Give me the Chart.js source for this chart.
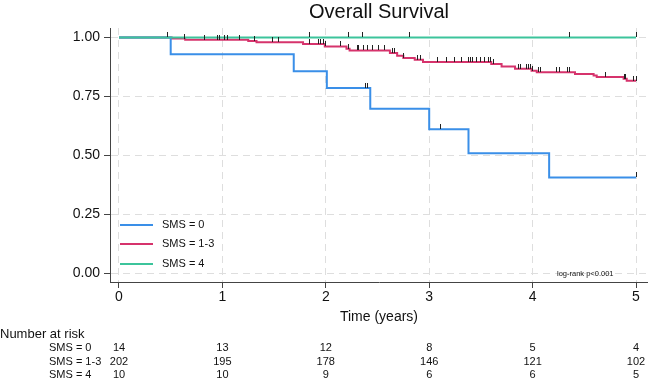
<!DOCTYPE html>
<html>
<head>
<meta charset="utf-8">
<script src="https://cdn.jsdelivr.net/npm/chart.js@4"></script>
<style>
  body { margin: 0; background: #fff; }
  canvas { display: block; }
</style>
</head>
<body>
<canvas id="km" width="648" height="381"></canvas>
<script>
// Kaplan-Meier curves: Overall Survival by SMS group

const groupNames = ['SMS = 0', 'SMS = 1-3', 'SMS = 4'];
const groupColors = ['#3a8fe8', '#d6336c', '#3cc49b'];

// step curves (time in years, survival from that time onward)
const sms0Times = [0, 0.50, 1.69, 2.01, 2.43, 3.00, 3.38, 4.16, 5.00];
const sms0Surv = [1.000, 0.929, 0.857, 0.786, 0.698, 0.611, 0.509, 0.407, 0.407];

const sms13Times = [0, 0.51, 0.64, 1.25, 1.33, 1.78, 1.99, 2.20, 2.23, 2.62, 2.69, 2.75, 2.86, 2.94,
    3.60, 3.70, 3.83, 3.99, 4.04, 4.41, 4.59, 4.62, 4.88, 4.91, 5.00];
const sms13Surv = [1.000, 0.995, 0.990, 0.985, 0.980, 0.972, 0.962, 0.952, 0.945, 0.934, 0.922, 0.913, 0.906, 0.896,
    0.887, 0.877, 0.867, 0.859, 0.853, 0.845, 0.839, 0.832, 0.825, 0.817, 0.817];

const sms4Times = [0, 5.00];
const sms4Surv = [1.000, 1.000];

// censoring times
const sms0Censor = [2.38, 2.40, 3.10, 5.00];
const sms13Censor = [0.46, 0.63, 0.82, 0.945, 0.967, 1.02, 1.04, 1.165, 1.31, 1.48, 1.54, 1.84, 1.92, 1.94,
    1.97, 1.99, 2.14, 2.21, 2.30, 2.31, 2.36, 2.40, 2.45, 2.50, 2.56, 2.64, 2.66, 2.75, 2.88, 2.91, 3.08,
    3.16, 3.24, 3.31, 3.38, 3.39, 3.41, 3.45, 3.49, 3.53, 3.57, 3.59, 3.62, 3.86, 3.88, 3.94, 3.96, 3.97,
    3.99, 4.05, 4.07, 4.23, 4.26, 4.33, 4.35, 4.70, 4.88, 4.89, 4.97, 5.00];
const sms4Censor = [1.84, 2.21, 2.35, 2.80, 4.35, 5.00];

// axes and risk table
const timeTicks = [0, 1, 2, 3, 4, 5];
const survTicks = [0, 0.25, 0.5, 0.75, 1];
const riskSms0 = [14, 13, 12, 8, 5, 4];
const riskSms13 = [202, 195, 178, 146, 121, 102];
const riskSms4 = [10, 10, 9, 6, 6, 5];

const FONT = "'Liberation Sans', Arial, Helvetica, sans-serif";
Chart.defaults.font.family = FONT;

function toPoints(times, surv) {
    return times.map((t, i) => ({ x: t, y: surv[i] }));
}

// value of a step curve at time t
function survAt(times, surv, t) {
    let s = surv[0];
    for (let i = 0; i < times.length; i++) {
        if (times[i] <= t) s = surv[i];
    }
    return s;
}

const curves = [
    { times: sms0Times, surv: sms0Surv, censor: sms0Censor },
    { times: sms13Times, surv: sms13Surv, censor: sms13Censor },
    { times: sms4Times, surv: sms4Surv, censor: sms4Censor }
];

// small vertical ticks at censoring times
const censorPlugin = {
    id: 'censorMarks',
    afterDatasetsDraw(chart) {
        const { ctx, scales: { x, y } } = chart;
        ctx.save();
        ctx.fillStyle = '#222';
        curves.forEach(c => {
            c.censor.forEach(t => {
                const px = Math.round(x.getPixelForValue(t));
                const py = Math.round(y.getPixelForValue(survAt(c.times, c.surv, t)));
                ctx.fillRect(px, py - 5, 1, 5);
            });
        });
        ctx.restore();
    }
};

// legend inside plot, bottom left
const legendPlugin = {
    id: 'insideLegend',
    afterDatasetsDraw(chart) {
        const { ctx, chartArea } = chart;
        const rowsY = [chartArea.bottom - 57, chartArea.bottom - 38, chartArea.bottom - 18];
        ctx.save();
        ctx.font = `11px ${FONT}`;
        ctx.textBaseline = 'middle';
        ctx.fillStyle = '#111';
        groupNames.forEach((name, i) => {
            ctx.strokeStyle = groupColors[i];
            ctx.lineWidth = 2;
            ctx.beginPath();
            ctx.moveTo(chartArea.left + 10, rowsY[i]);
            ctx.lineTo(chartArea.left + 43, rowsY[i]);
            ctx.stroke();
            ctx.fillText(name, chartArea.left + 52, rowsY[i]);
        });
        ctx.font = `7.5px ${FONT}`;
        ctx.fillText('log-rank p<0.001', 557, chartArea.bottom - 8);
        ctx.restore();
    }
};

// number at risk table under the axis
const riskPlugin = {
    id: 'riskTable',
    afterDraw(chart) {
        const { ctx, scales: { x } } = chart;
        ctx.save();
        ctx.fillStyle = '#111';
        ctx.textBaseline = 'middle';
        ctx.font = `13px ${FONT}`;
        ctx.textAlign = 'left';
        ctx.fillText('Number at risk', 0, 334);

        const rows = [riskSms0, riskSms13, riskSms4];
        const rowY = [348, 361.5, 375];
        ctx.font = `11px ${FONT}`;
        rows.forEach((row, r) => {
            ctx.textAlign = 'left';
            ctx.fillText(groupNames[r], 49, rowY[r]);
            ctx.textAlign = 'center';
            row.forEach((n, i) => {
                ctx.fillText(String(n), x.getPixelForValue(timeTicks[i]), rowY[r]);
            });
        });
        ctx.restore();
    }
};

const datasets = curves.map((c, i) => ({
    label: groupNames[i],
    data: toPoints(c.times, c.surv),
    borderColor: groupColors[i],
    backgroundColor: groupColors[i],
    borderWidth: 2,
    pointRadius: 0,
    stepped: 'before',
    fill: false,
    order: [1, 2, 0][i]
}));

const gridOpts = { color: '#dedede', lineWidth: 1, tickLength: 6, tickColor: '#444', tickWidth: 1, tickBorderDash: [] };
const borderOpts = { display: true, color: '#444', width: 1, dash: [7, 5] };

new Chart(document.getElementById('km'), {
    type: 'line',
    data: { datasets: datasets },
    options: {
        responsive: false,
        animation: false,
        layout: { padding: { left: 0, right: 0, top: 0, bottom: 55 } },
        plugins: {
            legend: { display: false },
            tooltip: { enabled: false },
            title: {
                display: true,
                text: 'Overall Survival',
                fullSize: false,
                color: '#111',
                font: { size: 20, weight: 'normal' },
                padding: { top: 0, bottom: 4 }
            }
        },
        scales: {
            x: {
                type: 'linear',
                position: 'bottom',
                min: -0.087,
                max: 5.116,
                afterBuildTicks: s => { s.ticks = timeTicks.map(v => ({ value: v })); },
                afterFit: s => { s.height = 44; },
                ticks: { color: '#111', font: { size: 14 }, padding: 1, maxRotation: 0 },
                grid: gridOpts,
                border: borderOpts,
                title: { display: true, text: 'Time (years)', color: '#111', font: { size: 14 }, padding: 0 }
            },
            y: {
                type: 'linear',
                min: -0.036,
                max: 1.04,
                afterBuildTicks: s => { s.ticks = survTicks.map(v => ({ value: v })); },
                afterFit: s => { s.width = 110; },
                ticks: { color: '#111', font: { size: 14 }, padding: 4, callback: v => v.toFixed(2) },
                grid: gridOpts,
                border: borderOpts
            }
        }
    },
    plugins: [censorPlugin, legendPlugin, riskPlugin]
});
</script>
</body>
</html>
